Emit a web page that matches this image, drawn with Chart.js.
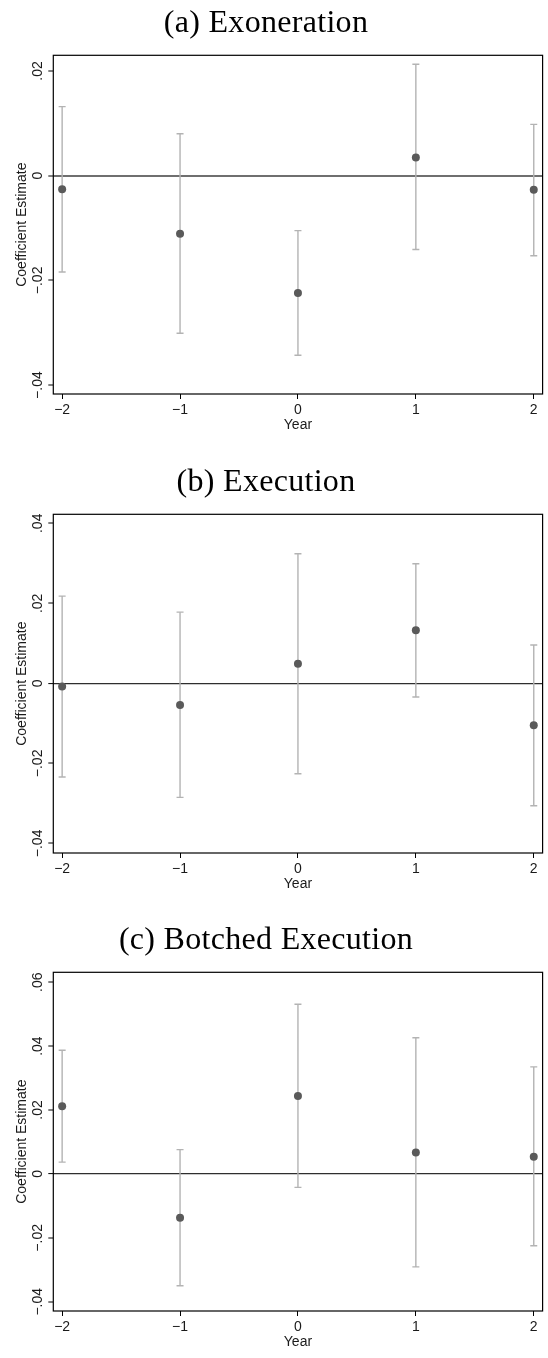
<!DOCTYPE html>
<html>
<head>
<meta charset="utf-8">
<script src="https://cdn.jsdelivr.net/npm/chart.js@4.4.1/dist/chart.umd.min.js"></script>
<style>
  html, body { margin: 0; padding: 0; background: #fff; overflow: hidden; }
  #page { position: relative; width: 548px; height: 1358px; background: #fff; }
  #page canvas { position: absolute; left: 0; }
</style>
</head>
<body>
<div id="page">
  <canvas id="panelA" width="548" height="441" style="top:0px"></canvas>
  <canvas id="panelB" width="548" height="441" style="top:459px"></canvas>
  <canvas id="panelC" width="548" height="441" style="top:917px"></canvas>
</div>
<script>
// Event-study years relative to the event
const years = [-2, -1, 0, 1, 2];

// (a) Exoneration: point estimates and 95% confidence bounds
const exonerationCoef = [-0.0026, -0.0111, -0.0224, 0.0035, -0.0027];
const exonerationLow  = [-0.0184, -0.0301, -0.0343, -0.0141, -0.0153];
const exonerationHigh = [ 0.0132,  0.0080, -0.0105,  0.0213,  0.0098];

// (b) Execution
const executionCoef = [-0.0008, -0.0054,  0.0049,  0.0133, -0.0105];
const executionLow  = [-0.0234, -0.0285, -0.0226, -0.0034, -0.0306];
const executionHigh = [ 0.0218,  0.0178,  0.0324,  0.0299,  0.0096];

// (c) Botched Execution
const botchedCoef = [ 0.0212, -0.0137,  0.0244,  0.0067,  0.0054];
const botchedLow  = [ 0.0037, -0.0350, -0.0042, -0.0291, -0.0225];
const botchedHigh = [ 0.0387,  0.0076,  0.0531,  0.0426,  0.0335];

// Axis ticks
const yearTicks = [-2, -1, 0, 1, 2];
const yTicksA = [-0.04, -0.02, 0, 0.02];
const yTicksB = [-0.04, -0.02, 0, 0.02, 0.04];
const yTicksC = [-0.04, -0.02, 0, 0.02, 0.04, 0.06];

const titleA = '(a) Exoneration';
const titleB = '(b) Execution';
const titleC = '(c) Botched Execution';

const TEXT = '#1a1a1a';
const CI_COLOR = '#b3b3b3';
const DOT_COLOR = '#5a5a5a';
const AXIS_FONT = { family: '"Liberation Sans", Arial, sans-serif', size: 14 };

function fmtCoef(v) {
  if (Math.abs(v) < 1e-12) return '0';
  const s = Math.abs(v).toFixed(2).replace(/^0/, '');
  return (v < 0 ? '\u2212' : '') + s;
}
function fmtYear(v) {
  return v < 0 ? '\u2212' + Math.abs(v) : String(v);
}

// Frame, rotated y tick labels and panel caption
const panelDecor = {
  id: 'panelDecor',
  afterDraw(chart, args, opts) {
    const { ctx, chartArea: a, scales: { y } } = chart;
    ctx.save();
    ctx.strokeStyle = '#000';
    ctx.lineWidth = 1.2;
    ctx.strokeRect(a.left, a.top, a.right - a.left, a.bottom - a.top);

    ctx.fillStyle = TEXT;
    ctx.font = '14px "Liberation Sans", Arial, sans-serif';
    ctx.textAlign = 'center';
    ctx.textBaseline = 'alphabetic';
    y.ticks.forEach(t => {
      const py = y.getPixelForValue(t.value);
      ctx.save();
      ctx.translate(a.left - 11.8, py);
      ctx.rotate(-Math.PI / 2);
      ctx.fillText(fmtCoef(t.value), 0, 0);
      ctx.restore();
    });

    ctx.fillStyle = '#000';
    ctx.font = '32px "Liberation Serif", "Times New Roman", serif';
    if ('letterSpacing' in ctx) ctx.letterSpacing = '0.3px';
    ctx.textAlign = 'center';
    ctx.fillText(opts.title, 266, 31.5);
    ctx.restore();
  }
};

function buildPanel(p) {
  const segments = [];
  const caps = [];
  years.forEach((x, i) => {
    segments.push({ x, y: p.low[i] }, { x, y: p.high[i] }, { x, y: null });
    caps.push({ x, y: p.low[i] }, { x, y: p.high[i] });
  });
  const points = years.map((x, i) => ({ x, y: p.coef[i] }));

  return new Chart(document.getElementById(p.id), {
    type: 'scatter',
    data: {
      datasets: [
        { data: segments, showLine: true, spanGaps: false, borderColor: CI_COLOR,
          borderWidth: 1.4, pointRadius: 0, order: 3 },
        { data: caps, showLine: false, pointStyle: 'line', pointRadius: 3.5,
          pointBorderWidth: 1.4, pointBorderColor: CI_COLOR, borderColor: CI_COLOR, order: 2 },
        { data: points, showLine: false, pointStyle: 'circle', pointRadius: 4,
          pointBackgroundColor: DOT_COLOR, pointBorderColor: DOT_COLOR, pointBorderWidth: 0, order: 1 }
      ]
    },
    options: {
      responsive: false,
      animation: false,
      devicePixelRatio: 1,
      layout: { padding: { top: 55.3, right: 3, bottom: 0, left: 0 } },
      plugins: {
        legend: { display: false },
        tooltip: { enabled: false },
        panelDecor: { title: p.title }
      },
      scales: {
        x: {
          type: 'linear',
          min: -2.075, max: 2.075,
          afterBuildTicks: s => { s.ticks = yearTicks.map(v => ({ value: v })); },
          afterFit: s => { s.height = 47; },
          border: { display: false },
          grid: { drawOnChartArea: false, drawTicks: true, tickLength: 5, tickColor: '#000', tickWidth: 1 },
          ticks: { font: AXIS_FONT, color: TEXT, padding: 3, maxRotation: 0, autoSkip: false,
                   callback: v => fmtYear(v) },
          title: { display: true, text: 'Year', font: AXIS_FONT, color: TEXT,
                   padding: { top: 0, bottom: 7.6 } }
        },
        y: {
          type: 'linear',
          min: p.min, max: p.max,
          afterBuildTicks: s => { s.ticks = p.ticks.map(v => ({ value: v })); },
          afterFit: s => { s.width = 53.3; },
          border: { display: false },
          grid: {
            drawOnChartArea: true, drawTicks: true, tickLength: 5,
            tickColor: '#000', tickWidth: 1,
            color: c => (c.tick && c.tick.value === 0 ? p.zeroColor : 'rgba(0,0,0,0)'),
            lineWidth: c => (c.tick && c.tick.value === 0 ? p.zeroWidth : 0)
          },
          ticks: { display: false },
          title: { display: true, text: 'Coefficient Estimate', font: AXIS_FONT, color: TEXT,
                   padding: { top: 13.6, bottom: 0 } }
        }
      }
    },
    plugins: [panelDecor]
  });
}

buildPanel({ id: 'panelA', title: titleA, coef: exonerationCoef, low: exonerationLow, high: exonerationHigh,
             ticks: yTicksA, min: -0.0417, max: 0.0230, zeroColor: '#6f6f6f', zeroWidth: 2 });
buildPanel({ id: 'panelB', title: titleB, coef: executionCoef, low: executionLow, high: executionHigh,
             ticks: yTicksB, min: -0.0424, max: 0.04225, zeroColor: '#2e2e2e', zeroWidth: 1.2 });
buildPanel({ id: 'panelC', title: titleC, coef: botchedCoef, low: botchedLow, high: botchedHigh,
             ticks: yTicksC, min: -0.0429, max: 0.0631, zeroColor: '#2e2e2e', zeroWidth: 1.2 });
</script>
</body>
</html>
